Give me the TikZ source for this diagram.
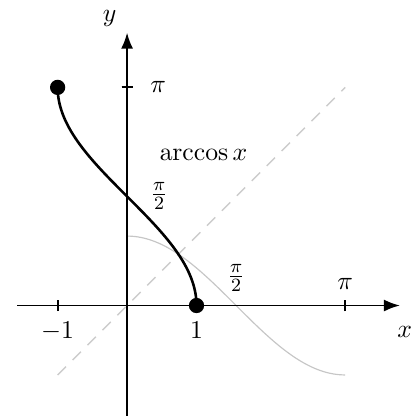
\documentclass[tikz,border=0pt]{standalone}
\usetikzlibrary{arrows.meta, calc}
\tikzset{
    axisline/.style = {thick, -{Latex[length=2.4mm, width=1.8mm]}},
    axtick/.style = {thick},
    arccurve/.style = {line width=1.1pt, black},
    coscurve/.style = {gray!45, line width=0.5pt},
    diagline/.style = {gray!40, dashed, dash pattern=on 5pt off 4pt, line width=0.6pt},
    enddot/.style = {circle, fill=black, inner sep=0pt, minimum size=6.5pt}
}

\begin{document}
\begin{tikzpicture}[x=1.04cm, y=1.04cm, font=\fontsize{11}{13}\selectfont]
\useasboundingbox (-1.83,-1.58) rectangle (4.19,4.40);

% ---- helper curves ----
\draw[diagline] (-1,-1) -- (pi,pi);
\draw[coscurve] plot[domain=0:pi, samples=80, smooth] (\x,{cos(\x r)});

% ---- axes ----
\draw[axisline] (-1.58,0) -- (3.93,0) coordinate (xend);
\draw[axisline] (0,-1.6) -- (0,3.93) coordinate (yend);
\node (xlab) at (4.0,-0.38) {$x$};
\node (ylab) at (-0.25,4.14) {$y$};

% ---- ticks on x ----
\foreach \xv/\nm in {-1/m1, 1/p1, pi/2/hp, pi/pp}
  \draw[axtick] (\xv,-0.08) -- (\xv,0.08) coordinate (x\nm);
\node[below=1pt] (lm1) at (-1,-0.08) {$-1$};
\node[below=1pt] (lp1) at (1,-0.08) {$1$};
\node[above=0pt] (lhp) at (pi/2,0.08) {$\frac{\pi}{2}$};
\node[above=1pt] (lpp) at (pi,0.08) {$\pi$};

% ---- ticks on y ----
\foreach \yv/\nm in {pi/2/hp, pi/pp}
  \draw[axtick] (-0.08,\yv) -- (0.08,\yv) coordinate (y\nm);
\node[right=4pt] (lyhp) at (0.08,pi/2) {$\frac{\pi}{2}$};
\node[right=4pt] (lypp) at (0.08,pi) {$\pi$};

% ---- arccos ----
\draw[arccurve] plot[domain=0:180, samples=90, smooth] ({cos(\x)},{\x*pi/180});
\node[enddot] (top) at (-1,pi) {};
\node[enddot] (bot) at (1,0) {};
\node (arclab) at (1.1,2.17) {$\arccos x$};

\end{tikzpicture}
\end{document}
